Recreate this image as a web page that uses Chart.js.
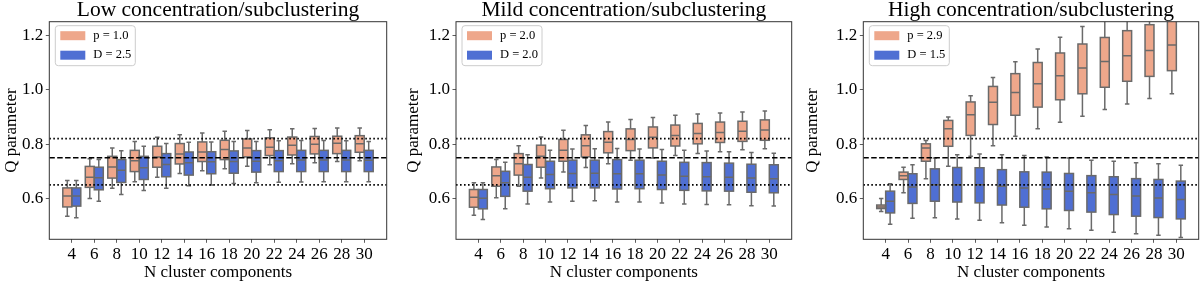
<!DOCTYPE html>
<html>
<head>
<meta charset="utf-8">
<script src="https://cdn.jsdelivr.net/npm/chart.js@4.4.0/dist/chart.umd.min.js"></script>
<style>
  body { margin: 0; background: #fff; }
  #wrap { position: relative; width: 1200px; height: 284px; overflow: hidden; }
  canvas { position: absolute; top: 0; }
</style>
</head>
<body>
<div id="wrap">
  <canvas id="c1" width="388" height="284" style="left:0px"></canvas>
  <canvas id="c2" width="391" height="284" style="left:402px"></canvas>
  <canvas id="c3" width="399" height="284" style="left:801px"></canvas>
</div>
<script>
// categories (N cluster components) and axis ticks
var cats = [4, 6, 8, 10, 12, 14, 16, 18, 20, 22, 24, 26, 28, 30];
var yTicks = [0.6, 0.8, 1.0, 1.2];
var refValues = [0.82, 0.75, 0.65];

var titles = ['Low concentration/subclustering', 'Mild concentration/subclustering', 'High concentration/subclustering'];
var pinkLabels = ['p = 1.0', 'p = 2.0', 'p = 2.9'];
var blueLabels = ['D = 2.5', 'D = 2.0', 'D = 1.5'];

// each box: [whisker low, q1, median, q3, whisker high]
var lowP = [
  [0.535, 0.569, 0.609, 0.639, 0.666], [0.600, 0.641, 0.678, 0.718, 0.746],
  [0.638, 0.675, 0.716, 0.755, 0.786], [0.662, 0.699, 0.739, 0.777, 0.810],
  [0.678, 0.715, 0.753, 0.792, 0.825], [0.692, 0.727, 0.764, 0.802, 0.834],
  [0.702, 0.736, 0.771, 0.808, 0.841], [0.709, 0.743, 0.780, 0.814, 0.847],
  [0.719, 0.753, 0.786, 0.819, 0.850], [0.724, 0.758, 0.788, 0.823, 0.853],
  [0.728, 0.760, 0.796, 0.826, 0.856], [0.731, 0.764, 0.799, 0.828, 0.857],
  [0.736, 0.765, 0.803, 0.829, 0.859], [0.739, 0.770, 0.801, 0.831, 0.859]
];
var lowB = [
  [0.529, 0.572, 0.609, 0.639, 0.666], [0.590, 0.632, 0.676, 0.715, 0.743],
  [0.615, 0.659, 0.704, 0.743, 0.776], [0.629, 0.670, 0.713, 0.755, 0.792],
  [0.638, 0.680, 0.725, 0.765, 0.802], [0.647, 0.686, 0.731, 0.771, 0.807],
  [0.650, 0.691, 0.735, 0.772, 0.808], [0.655, 0.693, 0.736, 0.775, 0.810],
  [0.658, 0.697, 0.737, 0.776, 0.810], [0.660, 0.699, 0.739, 0.776, 0.812],
  [0.661, 0.699, 0.742, 0.777, 0.813], [0.662, 0.699, 0.742, 0.777, 0.813],
  [0.662, 0.699, 0.742, 0.777, 0.812], [0.662, 0.699, 0.741, 0.777, 0.810]
];
var midP = [
  [0.538, 0.568, 0.605, 0.633, 0.658], [0.603, 0.645, 0.684, 0.716, 0.743],
  [0.645, 0.686, 0.728, 0.765, 0.794], [0.675, 0.715, 0.755, 0.796, 0.826],
  [0.697, 0.737, 0.777, 0.817, 0.851], [0.714, 0.753, 0.794, 0.834, 0.868],
  [0.728, 0.768, 0.807, 0.846, 0.881], [0.741, 0.776, 0.817, 0.856, 0.890],
  [0.749, 0.786, 0.825, 0.863, 0.898], [0.758, 0.793, 0.832, 0.870, 0.906],
  [0.765, 0.801, 0.839, 0.876, 0.911], [0.772, 0.806, 0.843, 0.881, 0.914],
  [0.779, 0.810, 0.847, 0.884, 0.918], [0.783, 0.814, 0.852, 0.889, 0.922]
];
var midB = [
  [0.523, 0.562, 0.601, 0.633, 0.658], [0.562, 0.608, 0.658, 0.700, 0.733],
  [0.580, 0.627, 0.678, 0.725, 0.761], [0.587, 0.636, 0.688, 0.737, 0.777],
  [0.590, 0.639, 0.692, 0.741, 0.782], [0.592, 0.639, 0.693, 0.741, 0.783],
  [0.587, 0.635, 0.691, 0.743, 0.784], [0.587, 0.636, 0.691, 0.741, 0.782],
  [0.583, 0.633, 0.686, 0.737, 0.780], [0.580, 0.630, 0.682, 0.733, 0.777],
  [0.578, 0.628, 0.680, 0.732, 0.775], [0.577, 0.627, 0.678, 0.730, 0.772],
  [0.573, 0.623, 0.675, 0.726, 0.769], [0.572, 0.621, 0.673, 0.724, 0.766]
];
var highP = [
  [0.552, 0.563, 0.569, 0.576, 0.600], [0.621, 0.670, 0.684, 0.697, 0.715],
  [0.673, 0.737, 0.786, 0.801, 0.813], [0.719, 0.792, 0.856, 0.887, 0.900],
  [0.755, 0.832, 0.908, 0.955, 0.978], [0.794, 0.872, 0.954, 1.012, 1.045],
  [0.829, 0.906, 0.990, 1.059, 1.103], [0.856, 0.936, 1.022, 1.100, 1.150],
  [0.880, 0.963, 1.051, 1.135, 1.193], [0.902, 0.985, 1.080, 1.168, 1.232],
  [0.927, 1.009, 1.104, 1.192, 1.280], [0.947, 1.031, 1.125, 1.217, 1.310],
  [0.968, 1.049, 1.144, 1.239, 1.340], [0.985, 1.070, 1.164, 1.270, 1.370]
];
var highB = [
  [0.505, 0.547, 0.590, 0.627, 0.654], [0.527, 0.582, 0.642, 0.691, 0.724],
  [0.529, 0.590, 0.651, 0.709, 0.749], [0.525, 0.587, 0.651, 0.714, 0.761],
  [0.520, 0.584, 0.651, 0.713, 0.764], [0.511, 0.576, 0.645, 0.706, 0.761],
  [0.502, 0.568, 0.639, 0.698, 0.758], [0.495, 0.562, 0.635, 0.697, 0.753],
  [0.489, 0.556, 0.627, 0.692, 0.749], [0.483, 0.550, 0.621, 0.684, 0.741],
  [0.476, 0.541, 0.615, 0.680, 0.737], [0.470, 0.535, 0.609, 0.673, 0.731],
  [0.465, 0.530, 0.602, 0.670, 0.728], [0.457, 0.525, 0.596, 0.664, 0.722]
];

var FONT = "'Liberation Serif', 'Times New Roman', 'DejaVu Serif', serif";
var pinkFill = '#eea78b';
var blueFill = '#4f6fd3';
var edgeColor = '#6a6a6a';
var refDash = [[1.6, 2.4], [5.5, 2.4], [1.6, 2.4]];
var refWidth = [1.8, 1.6, 1.8];

Chart.defaults.color = '#000';
Chart.defaults.font.family = FONT;

// box outlines, whiskers, medians, reference lines, frame and legend
var boxExtras = {
  id: 'boxExtras',
  afterDatasetsDraw: function (chart) {
    var ctx = chart.ctx;
    var a = chart.chartArea;
    var ys = chart.scales.y;
    ctx.save();
    ctx.beginPath();
    ctx.rect(a.left, a.top, a.right - a.left, a.bottom - a.top);
    ctx.clip();
    ctx.strokeStyle = edgeColor;
    ctx.lineWidth = 1.5;
    chart.data.datasets.forEach(function (ds, d) {
      var meta = chart.getDatasetMeta(d);
      meta.data.forEach(function (bar, i) {
        var s = ds.stats[i];
        var half = bar.width / 2;
        var p = s.map(function (v) { return ys.getPixelForValue(v); });
        ctx.strokeRect(bar.x - half, p[3], bar.width, p[1] - p[3]);
        ctx.beginPath();
        ctx.moveTo(bar.x - half, p[2]); ctx.lineTo(bar.x + half, p[2]);
        ctx.moveTo(bar.x, p[3]); ctx.lineTo(bar.x, p[4]);
        ctx.moveTo(bar.x - half / 2, p[4]); ctx.lineTo(bar.x + half / 2, p[4]);
        ctx.moveTo(bar.x, p[1]); ctx.lineTo(bar.x, p[0]);
        ctx.moveTo(bar.x - half / 2, p[0]); ctx.lineTo(bar.x + half / 2, p[0]);
        ctx.stroke();
      });
    });
    ctx.strokeStyle = '#000';
    refValues.forEach(function (v, k) {
      var y = ys.getPixelForValue(v);
      ctx.lineWidth = refWidth[k];
      ctx.setLineDash(refDash[k]);
      ctx.beginPath();
      ctx.moveTo(a.left, y);
      ctx.lineTo(a.right, y);
      ctx.stroke();
    });
    ctx.restore();
  },
  afterDraw: function (chart) {
    var ctx = chart.ctx;
    var a = chart.chartArea;
    ctx.save();
    ctx.strokeStyle = '#333';
    ctx.lineWidth = 1;
    ctx.strokeRect(a.left, a.top, a.right - a.left, a.bottom - a.top);

    // legend box in the upper left corner
    var lx = a.left + 6, ly = a.top + 4, lw = 80, lh = 40;
    ctx.fillStyle = 'rgba(255,255,255,0.8)';
    ctx.strokeStyle = '#cccccc';
    ctx.lineWidth = 1;
    ctx.beginPath();
    ctx.roundRect(lx, ly, lw, lh, 3);
    ctx.fill();
    ctx.stroke();
    ctx.font = '12.5px ' + FONT;
    ctx.textBaseline = 'middle';
    chart.data.datasets.forEach(function (ds, d) {
      var cy = ly + 10 + d * 19.5;
      ctx.fillStyle = ds.backgroundColor;
      ctx.fillRect(lx + 5, cy - 4.5, 25, 9);
      ctx.fillStyle = '#000';
      ctx.fillText(ds.label, lx + 38, cy);
    });
    ctx.restore();
  }
};

function toBars(stats) {
  return stats.map(function (s, i) {
    return { x: cats[i], y: [s[1], s[3]] };
  });
}

function makePanel(id, n, pink, blue, yWidth) {
  return new Chart(document.getElementById(id), {
    type: 'bar',
    data: {
      datasets: [
        { label: pinkLabels[n], data: toBars(pink), stats: pink, backgroundColor: pinkFill,
          borderWidth: 0, clip: 0 },
        { label: blueLabels[n], data: toBars(blue), stats: blue, backgroundColor: blueFill,
          borderWidth: 0, clip: 0 }
      ]
    },
    options: {
      responsive: false,
      animation: false,
      events: [],
      layout: { padding: { left: 0, right: 1.3, top: 0, bottom: 0 } },
      datasets: { bar: { barPercentage: 1.0, categoryPercentage: 0.8 } },
      plugins: {
        legend: { display: false },
        tooltip: { enabled: false },
        title: {
          display: true, text: titles[n], fullSize: false, padding: 0, color: '#000',
          font: { size: 21.5, weight: 'normal', lineHeight: '21.7px' }
        }
      },
      scales: {
        x: {
          type: 'linear', min: 2, max: 32, offset: false,
          afterBuildTicks: function (s) { s.ticks = cats.map(function (c) { return { value: c }; }); },
          afterFit: function (s) { s.height = 44.7; },
          grid: { drawOnChartArea: false, offset: false, tickLength: 3.5, color: '#333', tickWidth: 0.8 },
          border: { display: false },
          ticks: { padding: 2, font: { size: 17 }, maxRotation: 0, autoSkip: false,
            callback: function (v) { return String(v); } },
          title: { display: true, text: 'N cluster components', font: { size: 17 }, padding: { top: 0, bottom: 1.6 } }
        },
        y: {
          min: 0.45, max: 1.25,
          afterBuildTicks: function (s) { s.ticks = yTicks.map(function (v) { return { value: v }; }); },
          afterFit: function (s) { s.width = yWidth; },
          grid: { drawOnChartArea: false, tickLength: 3.5, color: '#333', tickWidth: 0.8 },
          border: { display: false },
          ticks: { padding: 2.5, font: { size: 17 }, callback: function (v) { return v.toFixed(1); } },
          title: { display: true, text: 'Q parameter', font: { size: 17 }, padding: { top: 1.5, bottom: 0 } }
        }
      }
    },
    plugins: [boxExtras]
  });
}

makePanel('c1', 0, lowP, lowB, 49.3);
makePanel('c2', 1, midP, midB, 54);
makePanel('c3', 2, highP, highB, 62.3);
</script>
</body>
</html>
